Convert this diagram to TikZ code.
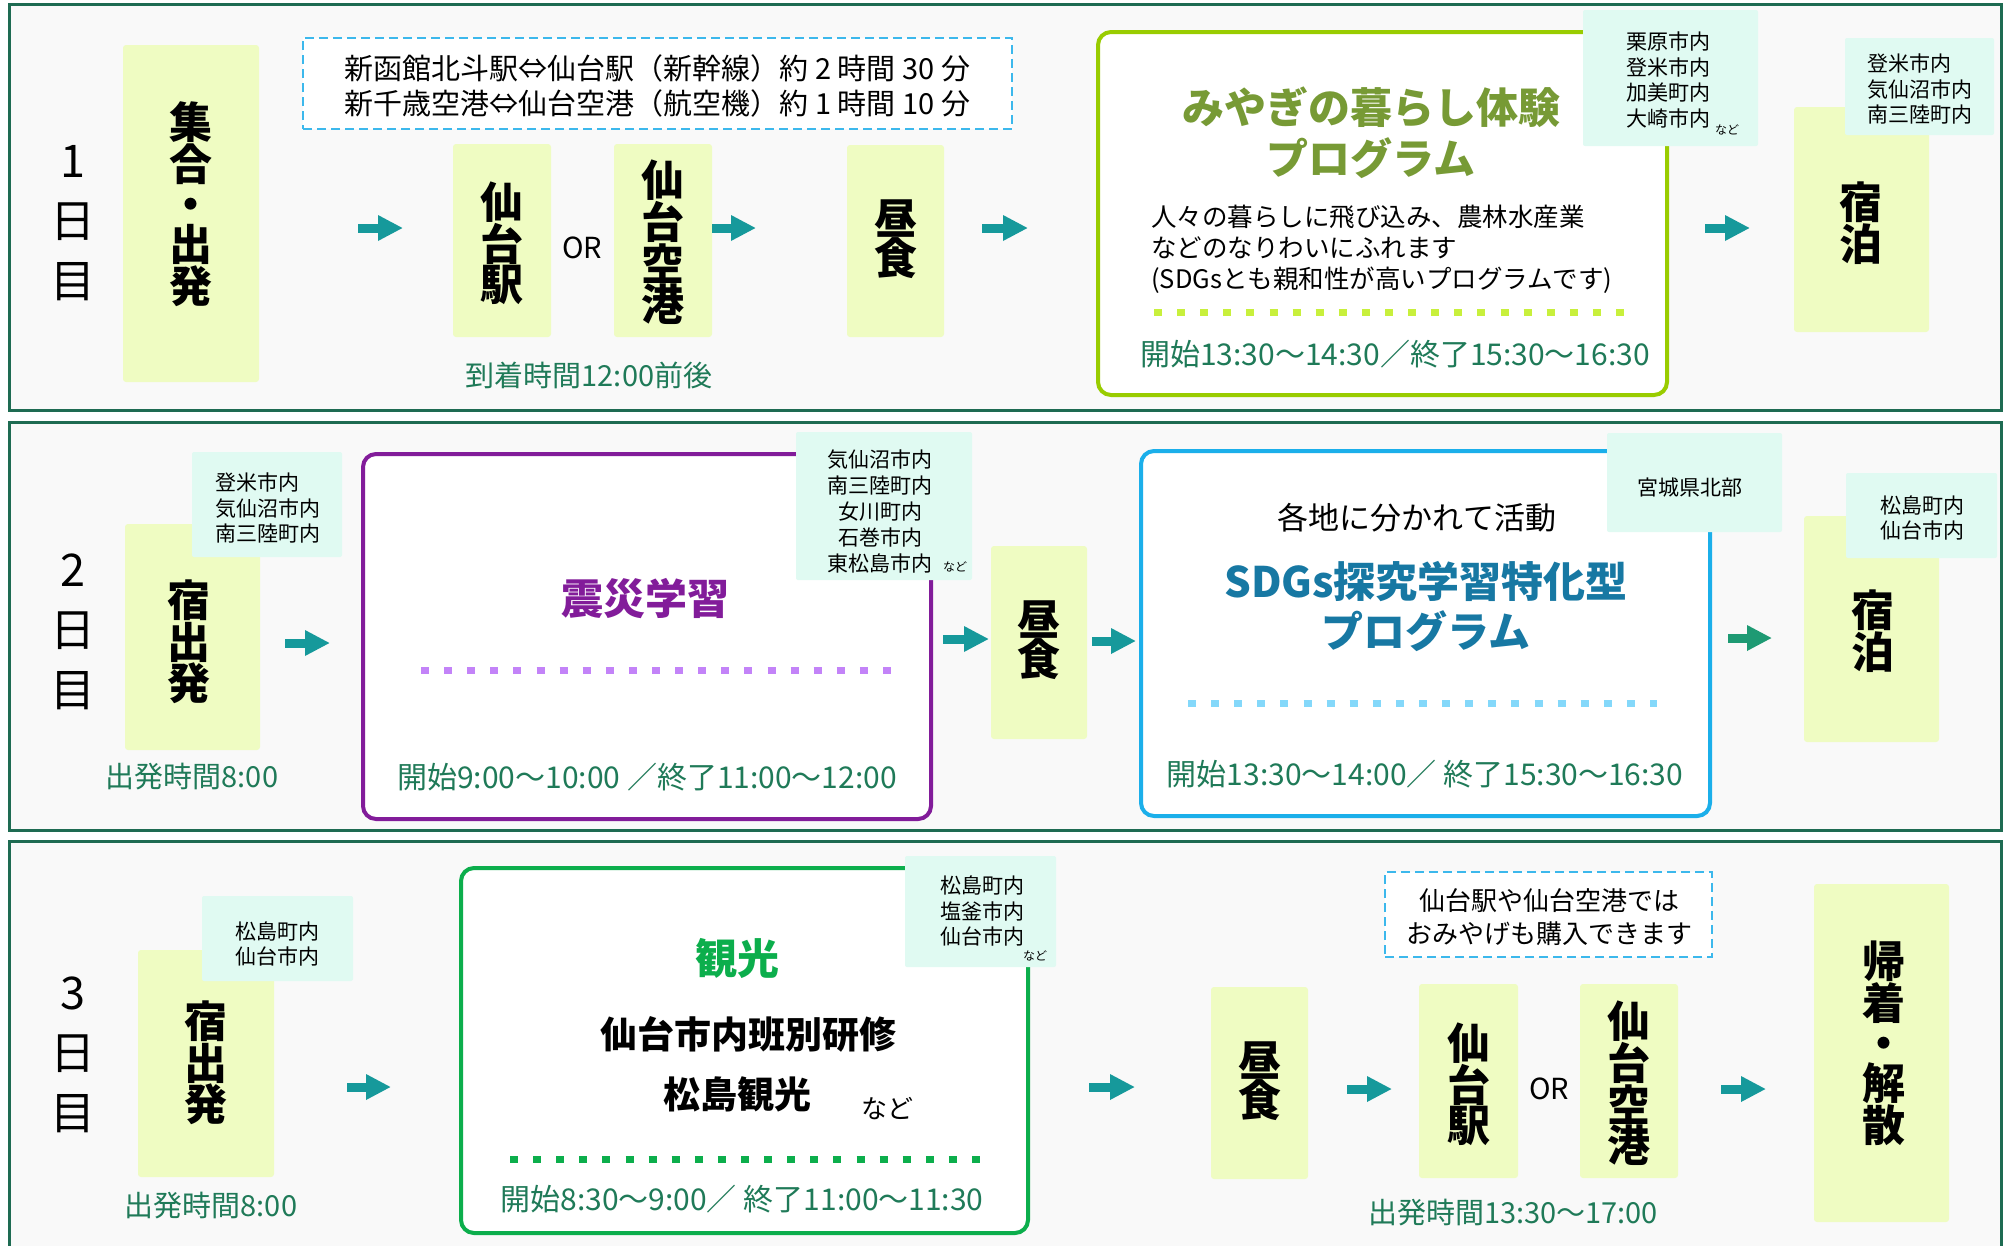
\documentclass[tikz,border=0pt]{standalone}
\usepackage{fontspec}
\setmainfont{Noto Sans CJK JP}
\usetikzlibrary{arrows.meta}
\definecolor{pborder}{HTML}{1E6B52}
\definecolor{panelbg}{HTML}{F9F9F9}
\definecolor{limefill}{HTML}{EFFCC2}
\definecolor{mint}{HTML}{E0FAF2}
\definecolor{teala}{HTML}{16999B}
\definecolor{tealb}{HTML}{1E9A73}
\definecolor{gtext}{HTML}{1F7A58}
\definecolor{olive}{HTML}{779A35}
\definecolor{ygborder}{HTML}{99CC00}
\definecolor{ygdots}{HTML}{C8F03C}
\definecolor{purp}{HTML}{821C9A}
\definecolor{purpdots}{HTML}{C383F8}
\definecolor{blueb}{HTML}{1BAFEA}
\definecolor{bluet}{HTML}{1778A3}
\definecolor{bluedots}{HTML}{84D8FA}
\definecolor{greenb}{HTML}{0CAE4C}
\definecolor{dblue}{HTML}{3CB8EC}
\newcommand{\myfs}[2]{\fontsize{#1}{#2}\selectfont}
\begin{document}
\begin{tikzpicture}[x=1pt,y=-1pt,
  panel/.style={draw=pborder,line width=3pt,fill=panelbg,inner sep=0pt,outer sep=0pt},
  ybox/.style={fill=limefill,rounded corners=3pt,inner sep=0pt,outer sep=0pt},
  loc/.style={fill=mint,rounded corners=2pt,inner sep=0pt,outer sep=0pt},
  prog/.style={fill=white,rounded corners=13pt,line width=4pt,inner sep=0pt,outer sep=0pt},
  dbox/.style={draw=dblue,dash pattern=on 9pt off 5pt,line width=2.5pt,fill=white,inner sep=0pt,outer sep=0pt},
  vt/.style={font=\bfseries\myfs{43}{40},align=center,inner sep=0pt},
  daylbl/.style={font=\myfs{45}{60},align=center,inner sep=0pt},
  loct/.style={font=\myfs{21}{25.5},align=left,inner sep=0pt,anchor=west},
  nado/.style={font=\myfs{12}{12},inner sep=0pt},
  gl/.style={font=\myfs{29}{29},text=gtext,inner sep=0pt},
  tm/.style={font=\myfs{30}{30},text=gtext,inner sep=0pt},
  ortext/.style={font=\myfs{29}{29},inner sep=0pt},
  ttl/.style={font=\bfseries\myfs{42}{51},align=center,inner sep=0pt},
  dots/.style={line width=7pt,dash pattern=on 8pt off 15.1pt},
  arr/.style={draw=teala,line width=9pt,-{Triangle[length=25pt,width=24pt]}},
]
\clip (0,0) rectangle (2007,1245);
\fill[white] (0,0) rectangle (2007,1245);

% panels
\node[panel,minimum width=1992pt,minimum height=406pt] (p1) at (1005,207) {};
\node[panel,minimum width=1992pt,minimum height=408pt] (p2) at (1005,626) {};
\node[panel,minimum width=1992pt,minimum height=419pt] (p3) at (1005,1050.5) {};

% day labels
\node[daylbl] (d1) at (73,223) {1\\日\\目};
\node[daylbl] (d2) at (73,632) {2\\日\\目};
\node[daylbl] (d3) at (73,1055) {3\\日\\目};

% ===== Day 1 =====
\node[ybox,minimum width=136pt,minimum height=337pt] (b1a) at (191,213.5) {};
\node[vt] (t1a) at (191,204) {集\\合\\・\\出\\発};
\node[dbox,minimum width=709pt,minimum height=91pt] (db1) at (657.5,83.5) {};
\node[font=\myfs{29}{35},align=center,inner sep=0pt] (tdb1) at (657.5,86) {新函館北斗駅⇔仙台駅（新幹線）約 2 時間 30 分\\新千歳空港⇔仙台空港（航空機）約 1 時間 10 分};
\node[ybox,minimum width=98pt,minimum height=193pt] (b1b) at (502,240.5) {};
\node[vt] (t1b) at (502,243) {仙\\台\\駅};
\node[ortext] (or1) at (582,248) {OR};
\node[ybox,minimum width=98pt,minimum height=193pt] (b1c) at (663,240.5) {};
\node[vt] (t1c) at (663,242) {仙\\台\\空\\港};
\node[ybox,minimum width=97pt,minimum height=192pt] (b1d) at (895.5,241) {};
\node[vt] (t1d) at (895.5,239) {昼\\食};
\node[gl] (g1) at (589,375) {到着時間12:00前後};

\node[prog,draw=ygborder,minimum width=569pt,minimum height=363pt] (pg1) at (1382.5,213.5) {};
\node[ttl,text=olive] (pg1t) at (1371,133) {みやぎの暮らし体験\\プログラム};
\node[font=\myfs{25.5}{31},align=left,inner sep=0pt,anchor=west] (pg1b) at (1151,249) {人々の暮らしに飛び込み、農林水産業\\などのなりわいにふれます\\(SDGsとも親和性が高いプログラムです)};
\coordinate (pg1d1) at (1154,312);
\coordinate (pg1d2) at (1624,312);
\draw[dots,draw=ygdots] (pg1d1) -- (pg1d2);
\node[tm] (pg1tm) at (1395,354) {開始13:30～14:30／終了15:30～16:30};

\node[loc,minimum width=175pt,minimum height=136pt] (l1a) at (1670.5,78) {};
\node[loct] (l1at) at (1626,80) {栗原市内\\登米市内\\加美町内\\大崎市内};
\node[nado] (l1an) at (1727,130) {など};

\node[ybox,minimum width=135pt,minimum height=225pt] (b1e) at (1861.5,219.5) {};
\node[vt] (t1e) at (1861,223) {宿\\泊};
\node[loc,minimum width=149pt,minimum height=97pt] (l1b) at (1919.5,86.5) {};
\node[loct] (l1bt) at (1867,89) {登米市内\\気仙沼市内\\南三陸町内};

\coordinate (a1s) at (358,228); \coordinate (a1e) at (403,228);
\coordinate (a2s) at (712,228); \coordinate (a2e) at (756,228);
\coordinate (a3s) at (982,228); \coordinate (a3e) at (1028,228);
\coordinate (a4s) at (1705,228); \coordinate (a4e) at (1750,228);
\draw[arr] (a1s) -- (a1e);
\draw[arr] (a2s) -- (a2e);
\draw[arr] (a3s) -- (a3e);
\draw[arr] (a4s) -- (a4e);

% ===== Day 2 =====
\node[ybox,minimum width=135pt,minimum height=226pt] (b2a) at (192.5,637) {};
\node[vt] (t2a) at (189,642) {宿\\出\\発};
\node[loc,minimum width=150pt,minimum height=105pt] (l2a) at (267,504.5) {};
\node[loct] (l2at) at (215,508) {登米市内\\気仙沼市内\\南三陸町内};
\node[gl] (g2) at (192,777) {出発時間8:00};

\node[prog,draw=purp,minimum width=568pt,minimum height=365pt] (pg2) at (647,636.5) {};
\node[ttl,text=purp] (pg2t) at (645,599) {震災学習};
\coordinate (pg2d1) at (421,670);
\coordinate (pg2d2) at (893,670);
\draw[dots,draw=purpdots] (pg2d1) -- (pg2d2);
\node[tm] (pg2tm) at (647,777) {開始9:00～10:00 ／終了11:00～12:00};
\node[loc,minimum width=176pt,minimum height=148pt] (l2b) at (884,506) {};
\node[font=\myfs{21}{26},align=center,inner sep=0pt] (l2bt) at (880,511) {気仙沼市内\\南三陸町内\\女川町内\\石巻市内\\東松島市内};
\node[nado] (l2bn) at (955,567) {など};

\node[ybox,minimum width=96pt,minimum height=193pt] (b2b) at (1039,642.5) {};
\node[vt] (t2b) at (1039,640) {昼\\食};

\node[prog,draw=blueb,minimum width=569pt,minimum height=365pt] (pg3) at (1425.5,633.5) {};
\node[font=\myfs{31}{31},inner sep=0pt] (pg3a) at (1417,518) {各地に分かれて活動};
\node[ttl,text=bluet,font=\bfseries\myfs{42}{50}] (pg3t) at (1426,607) {SDGs探究学習特化型\\プログラム};
\coordinate (pg3d1) at (1188,703);
\coordinate (pg3d2) at (1657,703);
\draw[dots,draw=bluedots] (pg3d1) -- (pg3d2);
\node[tm] (pg3tm) at (1425,774) {開始13:30～14:00／ 終了15:30～16:30};
\node[loc,minimum width=175pt,minimum height=99pt] (l2c) at (1694.5,482.5) {};
\node[font=\myfs{21}{21},inner sep=0pt] (l2ct) at (1690,488) {宮城県北部};

\node[ybox,minimum width=135pt,minimum height=226pt] (b2c) at (1871.5,629) {};
\node[vt] (t2c) at (1873,631) {宿\\泊};
\node[loc,minimum width=151pt,minimum height=85pt] (l2d) at (1921.5,515.5) {};
\node[loct] (l2dt) at (1880,518) {松島町内\\仙台市内};

\coordinate (a5s) at (285,643); \coordinate (a5e) at (330,643);
\coordinate (a6s) at (943,639); \coordinate (a6e) at (989,639);
\coordinate (a7s) at (1092,641); \coordinate (a7e) at (1136,641);
\coordinate (a8s) at (1728,638); \coordinate (a8e) at (1772,638);
\draw[arr] (a5s) -- (a5e);
\draw[arr] (a6s) -- (a6e);
\draw[arr] (a7s) -- (a7e);
\draw[arr,draw=tealb] (a8s) -- (a8e);

% ===== Day 3 =====
\node[ybox,minimum width=136pt,minimum height=227pt] (b3a) at (206,1063.5) {};
\node[vt] (t3a) at (206,1063) {宿\\出\\発};
\node[loc,minimum width=151pt,minimum height=85pt] (l3a) at (277.5,938.5) {};
\node[loct] (l3at) at (235,944) {松島町内\\仙台市内};
\node[gl] (g3) at (211,1206) {出発時間8:00};

\node[prog,draw=greenb,minimum width=567pt,minimum height=365pt] (pg4) at (744.5,1050.5) {};
\node[ttl,text=greenb] (pg4t) at (737,958) {観光};
\node[font=\bfseries\myfs{37}{37},inner sep=0pt] (pg4a) at (748,1034) {仙台市内班別研修};
\node[font=\bfseries\myfs{37}{37},inner sep=0pt] (pg4b) at (737,1094) {松島観光};
\node[font=\myfs{26}{26},inner sep=0pt] (pg4n) at (887,1109) {など};
\coordinate (pg4d1) at (510,1159);
\coordinate (pg4d2) at (981,1159);
\draw[dots,draw=greenb] (pg4d1) -- (pg4d2);
\node[tm] (pg4tm) at (742,1199) {開始8:30～9:00／ 終了11:00～11:30};
\node[loc,minimum width=151pt,minimum height=111pt] (l3b) at (980.5,911.5) {};
\node[loct] (l3bt) at (940,911) {松島町内\\塩釜市内\\仙台市内};
\node[nado] (l3bn) at (1035,956) {など};

\node[ybox,minimum width=97pt,minimum height=192pt] (b3b) at (1259.5,1083) {};
\node[vt] (t3b) at (1259.5,1081) {昼\\食};
\node[dbox,minimum width=327pt,minimum height=85pt] (db3) at (1548.5,914.5) {};
\node[font=\myfs{26}{33},align=center,inner sep=0pt] (tdb3) at (1549,917) {仙台駅や仙台空港では\\おみやげも購入できます};
\node[ybox,minimum width=99pt,minimum height=194pt] (b3c) at (1468.5,1081) {};
\node[vt] (t3c) at (1468.5,1084) {仙\\台\\駅};
\node[ortext] (or3) at (1549,1089) {OR};
\node[ybox,minimum width=98pt,minimum height=194pt] (b3d) at (1629,1081) {};
\node[vt] (t3d) at (1629,1083) {仙\\台\\空\\港};
\node[gl] (g4) at (1513,1213) {出発時間13:30～17:00};
\node[ybox,minimum width=135pt,minimum height=338pt] (b3e) at (1881.5,1053) {};
\node[vt] (t3e) at (1884,1043) {帰\\着\\・\\解\\散};

\coordinate (a9s) at (347,1087); \coordinate (a9e) at (391,1087);
\coordinate (a10s) at (1089,1087); \coordinate (a10e) at (1135,1087);
\coordinate (a11s) at (1347,1089); \coordinate (a11e) at (1392,1089);
\coordinate (a12s) at (1721,1089); \coordinate (a12e) at (1766,1089);
\draw[arr] (a9s) -- (a9e);
\draw[arr] (a10s) -- (a10e);
\draw[arr] (a11s) -- (a11e);
\draw[arr] (a12s) -- (a12e);
\end{tikzpicture}
\end{document}
